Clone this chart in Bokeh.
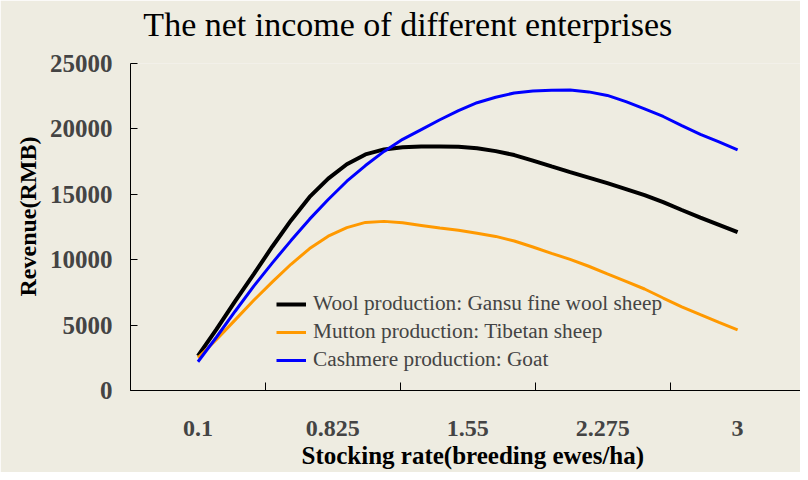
from bokeh.plotting import figure
from bokeh.models import FixedTicker, Range1d, Legend, LegendItem, ColumnDataSource, LinearAxis
from bokeh.embed import file_html
from bokeh.resources import INLINE

# ---- data ----
stocking_rate = [0.1, 0.2, 0.3, 0.4, 0.5, 0.6, 0.7, 0.8, 0.9, 1.0,
                 1.1, 1.2, 1.3, 1.4, 1.5, 1.6, 1.7, 1.8, 1.9, 2.0,
                 2.1, 2.2, 2.3, 2.4, 2.5, 2.6, 2.7, 2.8, 2.9, 3.0]
wool = [2650, 4700, 6840, 8900, 11010, 13000, 14800, 16200, 17300, 18050,
        18430, 18600, 18660, 18660, 18630, 18520, 18300, 18000, 17580, 17130,
        16700, 16280, 15850, 15400, 14930, 14400, 13800, 13220, 12660, 12100]
mutton = [2500, 3900, 5400, 6900, 8300, 9650, 10850, 11800, 12450, 12850,
          12930, 12820, 12620, 12420, 12250, 12020, 11780, 11430, 10970, 10480,
          10030, 9500, 8920, 8350, 7760, 7070, 6400, 5800, 5210, 4640]
cashmere = [2200, 4090, 6060, 7980, 9760, 11460, 13100, 14600, 16000, 17200,
            18280, 19200, 19950, 20700, 21400, 22000, 22420, 22750, 22900, 22960,
            22980, 22830, 22560, 22080, 21530, 20950, 20250, 19580, 19000, 18400]
x_tick_values = [0.1, 0.825, 1.55, 2.275, 3]
x_tick_labels = ["0.1", "0.825", "1.55", "2.275", "3"]
x_boundaries = [-0.2625, 0.4625, 1.1875, 1.9125, 2.6375]
y_ticks = [0, 5000, 10000, 15000, 20000, 25000]
series_names = ["Wool production: Gansu fine wool sheep",
                "Mutton production: Tibetan sheep",
                "Cashmere production: Goat"]
title_text = "The net income of different enterprises"
x_title = "Stocking rate(breeding ewes/ha)"
y_title = "Revenue(RMB)"

BG = "#EEECE1"
FONT = "Liberation Serif"
X0, X1 = -0.2625, 3.338

p = figure(width=800, height=472, output_backend="svg", toolbar_location=None,
           x_range=Range1d(X0, X1), y_range=Range1d(0, 25000),
           min_border_left=130, min_border_right=0, min_border_top=63,
           min_border_bottom=82)
p.background_fill_color = BG
p.border_fill_color = BG
p.outline_line_color = None
p.xgrid.visible = False
p.ygrid.visible = False

src = ColumnDataSource(dict(x=stocking_rate, wool=wool, mutton=mutton, cashmere=cashmere))
r1 = p.line("x", "wool", source=src, line_color="black", line_width=4)
r2 = p.line("x", "mutton", source=src, line_color="#FF9900", line_width=3)
r3 = p.line("x", "cashmere", source=src, line_color="#0000FF", line_width=3)

# x axis
xa = p.xaxis[0]
xa.ticker = FixedTicker(ticks=x_tick_values, minor_ticks=x_boundaries)
xa.major_label_overrides = {v: l for v, l in zip(x_tick_values, x_tick_labels)}
xa.major_tick_in = 0
xa.major_tick_out = 0
xa.minor_tick_in = 8
xa.minor_tick_out = 0
xa.minor_tick_line_color = "black"
xa.axis_line_color = "black"
xa.major_label_text_font = FONT
xa.major_label_text_font_style = "bold"
xa.major_label_text_font_size = "24px"
xa.major_label_standoff = 30

# y axis
ya = p.yaxis[0]
ya.ticker = FixedTicker(ticks=y_ticks)
ya.major_tick_in = 7
ya.major_tick_out = 0
ya.minor_tick_in = 0
ya.minor_tick_out = 0
ya.axis_line_color = "black"
ya.major_label_text_font = FONT
ya.major_label_text_font_style = "bold"
ya.major_label_text_font_size = "25px"
ya.major_label_standoff = 18


def text_axis(pos, text, size, bold, standoff, orientation="horizontal"):
    ax = LinearAxis(ticker=FixedTicker(ticks=[pos], minor_ticks=[]),
                    major_label_overrides={pos: text})
    ax.axis_line_color = None
    ax.major_tick_line_color = None
    ax.minor_tick_line_color = None
    ax.major_tick_in = 0
    ax.major_tick_out = 0
    ax.minor_tick_in = 0
    ax.minor_tick_out = 0
    ax.major_label_text_font = FONT
    ax.major_label_text_font_size = size
    ax.major_label_text_font_style = "bold" if bold else "normal"
    ax.major_label_text_color = "black"
    ax.major_label_standoff = standoff
    ax.major_label_orientation = orientation
    return ax


# chart title, x-axis title and y-axis title as single-label axes
p.add_layout(text_axis(1.228, title_text, "34px", False, 21), "above")
p.add_layout(text_axis(1.577, x_title, "25px", True, 3), "below")
p.add_layout(text_axis(13300, y_title, "24px", True, 5, "vertical"), "left")

legend = Legend(items=[LegendItem(label=series_names[0], renderers=[r1]),
                       LegendItem(label=series_names[1], renderers=[r2]),
                       LegendItem(label=series_names[2], renderers=[r3])],
                location=(146, 18))
legend.background_fill_alpha = 0
legend.border_line_alpha = 0
legend.label_text_font = FONT
legend.label_text_font_size = "21.3px"
legend.glyph_width = 30
legend.glyph_height = 22
legend.label_height = 22
legend.spacing = 3
legend.padding = 0
legend.margin = 0
legend.label_standoff = 7
p.add_layout(legend, "center")

open("out.html", "w").write(file_html(p, INLINE))
